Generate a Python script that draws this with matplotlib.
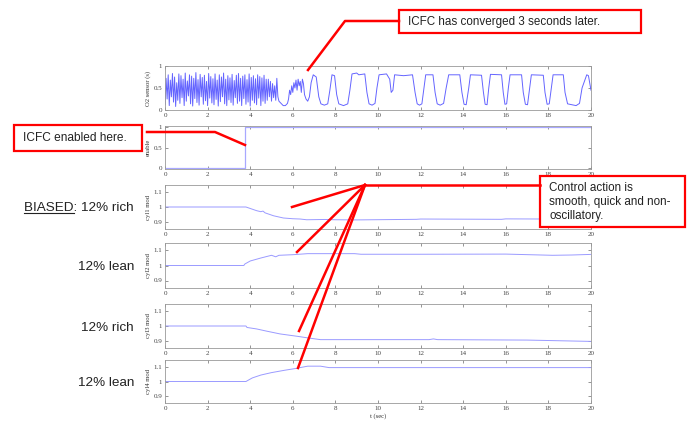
import numpy as np
import matplotlib
matplotlib.use("Agg")
import matplotlib.pyplot as plt
from matplotlib.patches import Rectangle
from matplotlib.lines import Line2D

# ---- data ----
# O2 sensor, fast limit cycle before ICFC (alternating highs / lows, 0 .. 4.75 s)
o2_fast_hi = [0.72, 0.80, 0.68, 0.83, 0.75, 0.62, 0.82, 0.78, 0.70, 0.84, 0.66, 0.80,
              0.77, 0.72, 0.85, 0.69, 0.81, 0.74, 0.79, 0.65, 0.83, 0.76, 0.71, 0.82,
              0.68, 0.80, 0.75, 0.84, 0.70, 0.78, 0.73, 0.81, 0.67, 0.79, 0.83, 0.72,
              0.77, 0.80, 0.69, 0.82, 0.74, 0.78, 0.71, 0.80, 0.76, 0.73, 0.79, 0.70]
o2_fast_lo = [0.12, 0.25, 0.10, 0.30, 0.18, 0.08, 0.22, 0.15, 0.28, 0.10, 0.20, 0.32,
              0.14, 0.09, 0.26, 0.17, 0.11, 0.30, 0.13, 0.21, 0.10, 0.27, 0.16, 0.12,
              0.24, 0.09, 0.19, 0.30, 0.14, 0.10, 0.23, 0.17, 0.11, 0.28, 0.15, 0.20,
              0.10, 0.26, 0.13, 0.18, 0.09, 0.22, 0.16, 0.12, 0.27, 0.10, 0.20, 0.15]
o2_fast_dt = 0.05

# O2 sensor after the fast part: breakpoints (time, value)
o2_slow_t = [4.80, 4.85, 4.90, 4.95, 5.00, 5.05, 5.10, 5.15, 5.20, 5.25, 5.30, 5.35,
             5.45, 5.55, 5.65, 5.75, 5.80, 5.85, 5.90, 5.95, 6.00, 6.05, 6.10, 6.15,
             6.20, 6.25, 6.30, 6.35, 6.40, 6.45, 6.50, 6.55, 6.62, 6.70, 6.78, 6.86,
             6.96, 7.10, 7.22, 7.32, 7.48, 7.64, 7.74, 7.84, 7.96, 8.06, 8.16, 8.38,
             8.58, 8.68, 8.78, 9.00, 9.10, 9.38, 9.48, 9.58, 9.72, 9.86, 9.95, 10.05,
             10.40, 10.55, 10.62, 10.70, 10.78, 11.20, 11.62, 11.74, 11.84, 11.95, 12.06, 12.16,
             12.24, 12.58, 12.68, 12.78, 12.92, 13.08, 13.20, 13.32, 13.84, 13.94, 14.04, 14.14,
             14.26, 14.34, 14.86, 14.95, 15.03, 15.12, 15.20, 15.28, 15.80, 15.88, 15.96, 16.04,
             16.12, 16.20, 16.74, 16.82, 16.92, 17.02, 17.12, 17.20, 17.76, 17.84, 17.94, 18.04,
             18.14, 18.22, 18.70, 18.78, 18.90, 19.10, 19.30, 19.46, 19.58, 19.80, 19.88, 20.0]
o2_slow_v = [0.22, 0.70, 0.30, 0.65, 0.20, 0.60, 0.28, 0.55, 0.22, 0.72, 0.30, 0.20,
             0.15, 0.10, 0.10, 0.15, 0.25, 0.45, 0.35, 0.55, 0.40, 0.62, 0.50, 0.68,
             0.45, 0.70, 0.55, 0.65, 0.40, 0.70, 0.60, 0.35, 0.25, 0.20, 0.30, 0.62,
             0.80, 0.75, 0.30, 0.14, 0.11, 0.14, 0.45, 0.80, 0.78, 0.35, 0.14, 0.10,
             0.14, 0.45, 0.82, 0.84, 0.80, 0.82, 0.40, 0.14, 0.11, 0.15, 0.50, 0.80,
             0.82, 0.70, 0.40, 0.45, 0.80, 0.78, 0.80, 0.40, 0.14, 0.11, 0.14, 0.50,
             0.80, 0.80, 0.40, 0.14, 0.11, 0.15, 0.50, 0.80, 0.80, 0.40, 0.13, 0.12,
             0.50, 0.80, 0.79, 0.40, 0.13, 0.12, 0.50, 0.81, 0.80, 0.40, 0.13, 0.14,
             0.50, 0.80, 0.80, 0.40, 0.13, 0.12, 0.50, 0.80, 0.79, 0.40, 0.13, 0.14,
             0.50, 0.80, 0.80, 0.40, 0.14, 0.12, 0.10, 0.15, 0.50, 0.80, 0.78, 0.45]

# ICFC enable flag
enable_t = [0.0, 3.75, 3.75, 20.0]
enable_v = [0.0, 0.0, 1.0, 1.0]

# cylinder fuel modifiers
cyl1_t = [0, 3.80, 4.00, 4.30, 4.50, 4.60, 4.70, 5.10, 5.56, 6.00, 6.35, 6.65, 7.50, 8.00, 9.00, 11.8, 12.0, 15.8, 16.0, 20]
cyl1_v = [1.0, 1.0, 0.99, 0.975, 0.968, 0.972, 0.960, 0.940, 0.925, 0.920, 0.918, 0.913, 0.915, 0.913, 0.912, 0.916, 0.918, 0.916, 0.919, 0.917]
cyl2_t = [0, 3.70, 3.75, 4.00, 4.50, 5.00, 5.20, 5.35, 6.00, 6.70, 8.90, 9.20, 12.0, 16.0, 18.2, 19.1, 20]
cyl2_v = [1.0, 1.0, 1.01, 1.03, 1.05, 1.068, 1.058, 1.068, 1.072, 1.079, 1.079, 1.075, 1.075, 1.076, 1.068, 1.070, 1.074]
cyl3_t = [0, 3.80, 3.85, 4.30, 4.77, 5.40, 6.20, 6.80, 7.30, 12.4, 12.6, 12.8, 17.0, 20]
cyl3_v = [1.0, 1.0, 0.99, 0.98, 0.965, 0.946, 0.930, 0.917, 0.907, 0.907, 0.912, 0.907, 0.904, 0.895]
cyl4_t = [0, 3.80, 4.10, 4.50, 5.00, 5.60, 6.10, 6.70, 7.30, 7.70, 12.0, 20]
cyl4_v = [1.0, 1.0, 1.025, 1.045, 1.062, 1.078, 1.090, 1.107, 1.107, 1.097, 1.097, 1.097]

xticks = list(range(0, 21, 2))
ylabels = ["O2 sensor (s)", "enable", "cyl1 mod", "cyl2 mod", "cyl3 mod", "cyl4 mod"]
side_labels = ["12% lean", "12% rich", "12% lean"]

# ---- figure ----
W, H = 690, 425
fig = plt.figure(figsize=(W / 100, H / 100), dpi=100)


def px(x, y):
    return x / W, 1 - y / H


# axes boxes in pixel rows (top, bottom)
rows = [(66, 110), (126, 169), (185, 229), (243, 288), (304, 348), (360, 403)]
x0, x1 = 165, 591
axes = []
for top, bot in rows:
    ax = fig.add_axes([x0 / W, 1 - bot / H, (x1 - x0) / W, (bot - top) / H])
    axes.append(ax)

# O2 sensor trace
ft = []
fv = []
for i in range(len(o2_fast_hi)):
    ft += [2 * i * o2_fast_dt, (2 * i + 1) * o2_fast_dt]
    fv += [o2_fast_lo[i], o2_fast_hi[i]]
axes[0].plot(ft + o2_slow_t, fv + o2_slow_v, color="#6464ff", lw=0.7)
axes[0].set_ylim(0, 1)
axes[0].set_yticks([0, 0.5, 1])
axes[0].set_yticklabels(["0", "0.5", "1"])

axes[1].plot(enable_t, enable_v, color="#a8a8ff", lw=0.9)
axes[1].set_ylim(-0.03, 1.03)
axes[1].set_yticks([0, 0.5, 1])
axes[1].set_yticklabels(["0", "0.5", "1"])

for ax, t, v in zip(axes[2:], [cyl1_t, cyl2_t, cyl3_t, cyl4_t], [cyl1_v, cyl2_v, cyl3_v, cyl4_v]):
    ax.plot(t, v, color="#9a9aff", lw=0.7)
    ax.set_ylim(0.85, 1.15)
    ax.set_yticks([0.9, 1.0, 1.1])
    ax.set_yticklabels(["0.9", "1", "1.1"])

for ax, lab in zip(axes, ylabels):
    ax.set_xlim(0, 20)
    ax.set_xticks(xticks)
    ax.tick_params(direction="in", length=2, width=0.4, top=True, right=True,
                   labelsize=5, pad=2, colors="#444444")
    for lbl in ax.get_xticklabels() + ax.get_yticklabels():
        lbl.set_family("Liberation Serif")
    for s in ax.spines.values():
        s.set_color("#999999")
        s.set_linewidth(0.6)
    ax.set_ylabel(lab, fontsize=4.8, family="Liberation Serif", labelpad=2, color="#333333")
axes[-1].set_xlabel("t (sec)", fontsize=4.8, family="Liberation Serif", labelpad=2, color="#333333")

# ---- annotations ----
red = "#ff0000"


def box(xa, ya, xb, yb):
    (fx0, fy1), (fx1, fy0) = px(xa, ya), px(xb, yb)
    fig.add_artist(Rectangle((fx0, fy0), fx1 - fx0, fy1 - fy0, transform=fig.transFigure,
                             facecolor="white", edgecolor=red, lw=1.6, zorder=5))


def poly(*pts):
    xs = [p[0] / W for p in pts]
    ys = [1 - p[1] / H for p in pts]
    fig.add_artist(Line2D(xs, ys, transform=fig.transFigure, color=red, lw=1.8, zorder=6))


txt = dict(family="Liberation Sans", color="#222222", zorder=7)

box(399, 10, 641, 33)
fig.text(*px(408, 22), "ICFC has converged 3 seconds later.", fontsize=8.4, va="center", **txt)
poly((399, 21), (345, 21), (308, 70))

box(14, 125, 142, 151)
fig.text(*px(23, 138), "ICFC enabled here.", fontsize=8.6, va="center", **txt)
poly((147, 132), (215, 132), (245, 145))

box(540, 176, 685, 227)
fig.text(*px(549, 202), "Control action is\nsmooth, quick and non-\noscillatory.", fontsize=8.4,
         va="center", linespacing=1.25, **txt)
poly((540, 185), (365, 185))
for end in [(292, 207), (297, 252), (299, 331), (298, 368)]:
    poly((365, 185), end)

# side labels
big = dict(family="Liberation Sans", color="#222222", fontsize=9.7, va="center", ha="right")
t_b = fig.text(*px(134, 208), "BIASED: 12% rich", **big)
for y, s in zip([267, 328, 383], side_labels):
    fig.text(*px(134, y), s, **big)

fig.canvas.draw()
bb = t_b.get_window_extent()
probe = fig.text(0, 0, "BIASED", family="Liberation Sans", fontsize=9.7)
pw = probe.get_window_extent(renderer=fig.canvas.get_renderer()).width
probe.remove()
uy = (bb.y0 + 1.5) / H
fig.add_artist(Line2D([bb.x0 / W, (bb.x0 + pw) / W], [uy, uy], transform=fig.transFigure,
                      color="#222222", lw=0.8))

fig.savefig("out.png", dpi=100)
